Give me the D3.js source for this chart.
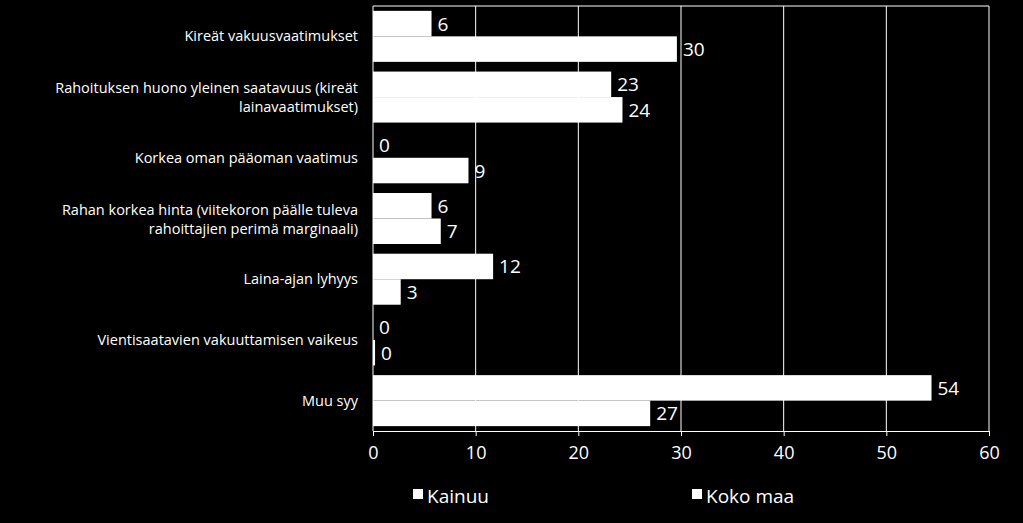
<!DOCTYPE html>
<html><head><meta charset="utf-8">
<script src="https://cdn.jsdelivr.net/npm/d3@7"></script>
<style>body{margin:0;background:#000}svg{display:block;font-family:"Open Sans",sans-serif}</style>
</head><body><svg id="chart"></svg>
<script>
const categories = [
  ["Kireät vakuusvaatimukset"],
  ["Rahoituksen huono yleinen saatavuus (kireät", "lainavaatimukset)"],
  ["Korkea oman pääoman vaatimus"],
  ["Rahan korkea hinta (viitekoron päälle tuleva", "rahoittajien perimä marginaali)"],
  ["Laina-ajan lyhyys"],
  ["Vientisaatavien vakuuttamisen vaikeus"],
  ["Muu syy"]
];
const kainuu = [5.7, 23.2, 0, 5.7, 11.7, 0, 54.4];
const kainuuLabels = ["6", "23", "0", "6", "12", "0", "54"];
const kokoMaa = [29.6, 24.3, 9.3, 6.6, 2.7, 0.2, 27];
const kokoMaaLabels = ["30", "24", "9", "7", "3", "0", "27"];
const ticks = [0, 10, 20, 30, 40, 50, 60];
const seriesNames = ["Kainuu", "Koko maa"];

const w = 1023, h = 523;
const plotLeft = 373, plotRight = 989, plotTop = 6, plotBottom = 431;
const svg = d3.select("#chart").attr("width", w).attr("height", h);
svg.append("rect").attr("width", w).attr("height", h).attr("fill", "#000");

const x = d3.scaleLinear().domain([0, 60]).range([plotLeft, plotRight]);
const y = d3.scaleBand().domain(d3.range(categories.length)).range([plotTop, plotBottom]).paddingInner(0.16).paddingOuter(0.08);

// grid
svg.selectAll(".grid").data(ticks).enter().append("line")
  .attr("x1", d => x(d)).attr("x2", d => x(d)).attr("y1", plotTop).attr("y2", plotBottom)
  .attr("stroke", "#fff").attr("stroke-width", 1);
svg.append("line").attr("x1", plotLeft).attr("x2", plotRight).attr("y1", plotTop).attr("y2", plotTop).attr("stroke", "#fff");

const bh = y.bandwidth() / 2;
[[kainuu, kainuuLabels, 0], [kokoMaa, kokoMaaLabels, 1]].forEach(([vals, labs, k]) => {
  svg.selectAll(".b" + k).data(vals).enter().append("rect")
    .attr("x", x(0)).attr("y", (d, i) => y(i) + k * bh)
    .attr("width", d => x(d) - x(0)).attr("height", bh).attr("fill", "#fff");
  svg.selectAll(".l" + k).data(vals).enter().append("text")
    .attr("x", d => x(d) + 6).attr("y", (d, i) => y(i) + k * bh + bh / 2 + 7)
    .attr("fill", "#fff").attr("font-size", 19)
    .text((d, i) => labs[i]);
});

// category labels
categories.forEach((lines, i) => {
  const t = svg.append("text").attr("text-anchor", "end").attr("fill", "#fff").attr("font-size", 14.5)
    .attr("x", 358).attr("y", y(i) + bh - (lines.length - 1) * 9 + 5);
  lines.forEach((l, j) => t.append("tspan").attr("x", 358).attr("dy", j ? 19 : 0).text(l));
});

// x axis
const xAxis = svg.append("g").attr("transform", `translate(0,${plotBottom})`)
  .call(d3.axisBottom(x).tickValues(ticks).tickSize(5).tickPadding(10));
xAxis.select(".domain").attr("stroke", "#fff");
xAxis.selectAll("line").attr("stroke", "#fff");
xAxis.selectAll("text").attr("fill", "#fff").attr("font-size", 18).attr("font-family", "Open Sans, sans-serif");

// legend
const lx = [413, 692];
seriesNames.forEach((s, i) => {
  svg.append("rect").attr("x", lx[i]).attr("y", 489).attr("width", 10).attr("height", 10).attr("fill", "#fff");
  svg.append("text").attr("x", lx[i] + 14).attr("y", 503).attr("fill", "#fff").attr("font-size", 19).text(s);
});
</script></body></html>
